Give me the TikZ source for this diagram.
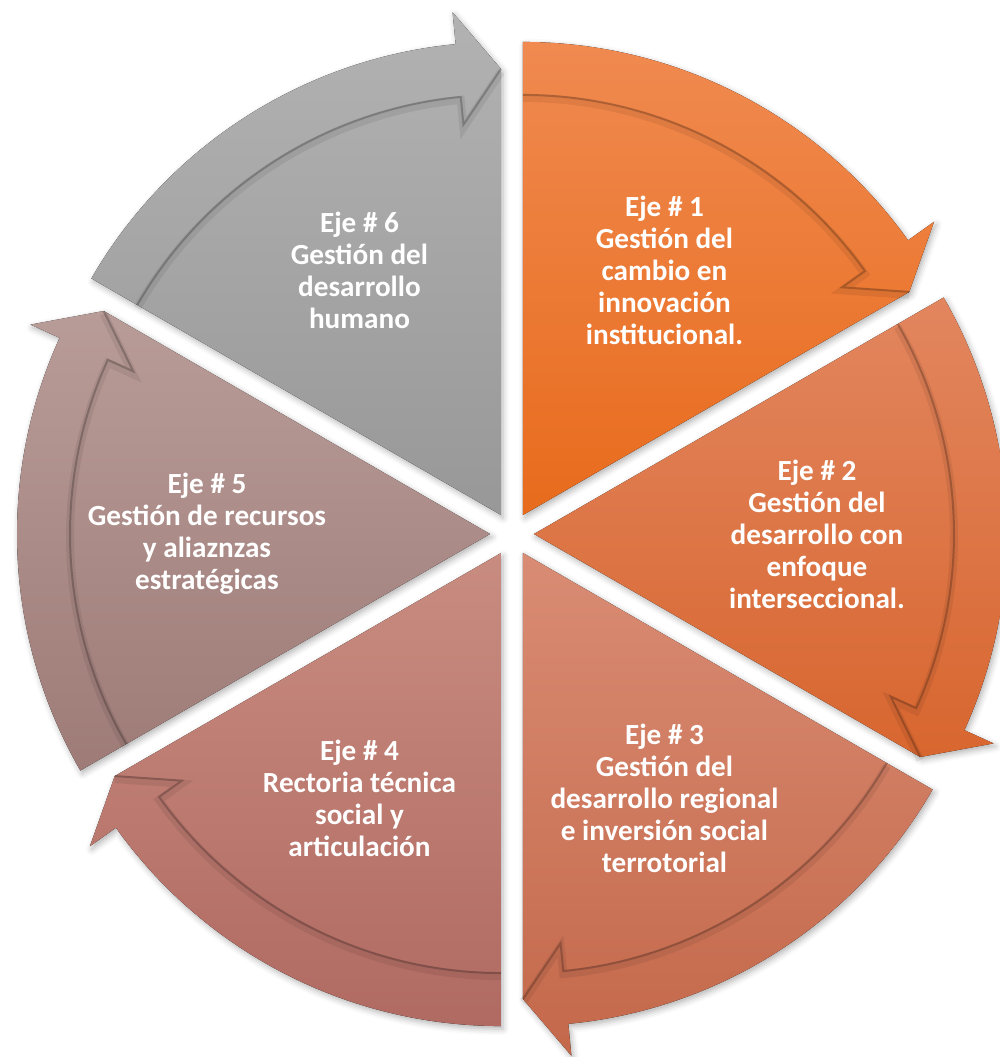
\documentclass[tikz,border=0pt]{standalone}
\usepackage{fontspec}
\setmainfont{Carlito}
\usetikzlibrary{shadows.blur}

\definecolor{ejeOneTop}{HTML}{F08A50}
\definecolor{ejeOneBot}{HTML}{E86B1C}
\definecolor{ejeTwoTop}{HTML}{E2865F}
\definecolor{ejeTwoBot}{HTML}{D8662F}
\definecolor{ejeThreeTop}{HTML}{D98C74}
\definecolor{ejeThreeBot}{HTML}{C4684A}
\definecolor{ejeFourTop}{HTML}{C98C80}
\definecolor{ejeFourBot}{HTML}{B06A62}
\definecolor{ejeFiveTop}{HTML}{B89C98}
\definecolor{ejeFiveBot}{HTML}{9E7B77}
\definecolor{ejeSixTop}{HTML}{B2B2B2}
\definecolor{ejeSixBot}{HTML}{989898}

\begin{document}
\begin{tikzpicture}[x=0.5pt, y=0.5pt,
        eje/.style={text=white, align=center, font=\fontsize{14.6}{16}\selectfont\bfseries},
        piece/.style={blur shadow={shadow xshift=1pt, shadow yshift=-1.5pt, shadow blur radius=3pt, shadow opacity=30}},
        rim/.style={draw=black, draw opacity=.22, line width=1pt},
        rimsoft/.style={draw=black, draw opacity=.07, line width=4pt}
    ]
        \useasboundingbox (-512,-523) rectangle (488,534);

        % pieces of the cycle, clockwise from the top
        \foreach \a/\ct/\cb in {90/ejeOneTop/ejeOneBot, 30/ejeTwoTop/ejeTwoBot,
                -30/ejeThreeTop/ejeThreeBot, -90/ejeFourTop/ejeFourBot,
                -150/ejeFiveTop/ejeFiveBot, 150/ejeSixTop/ejeSixBot}{
            \pgfmathsetmacro{\b}{\a-60}
            \pgfmathsetmacro{\e}{\a-54.5}
            \pgfmathsetmacro{\m}{\a-30}
            \begin{scope}[shift={(\m:22)}]
                \fill[piece, top color=\ct, bottom color=\cb] (0,0) -- (\a:473)
                    arc[start angle=\a, end angle=\e, radius=473] -- (\e:505) -- (\b:446) -- cycle;
                \draw[rimsoft, shift={(0,-3)}] (\a:420)
                    arc[start angle=\a, end angle=\e, radius=420] -- (\e:392) -- (\b:446);
                \draw[rim] (\a:420)
                    arc[start angle=\a, end angle=\e, radius=420] -- (\e:392) -- (\b:446);
            \end{scope}
        }

        \node[eje] (eje1) at (60:305) {Eje \# 1\\Gestión del\\cambio en\\innovación\\institucional.};
        \node[eje] (eje2) at (0:305) {Eje \# 2\\Gestión del\\desarrollo con\\enfoque\\interseccional.};
        \node[eje] (eje3) at (-60:305) {Eje \# 3\\Gestión del\\desarrollo regional\\e inversión social\\terrotorial};
        \node[eje] (eje4) at (-120:305) {Eje \# 4\\Rectoria técnica\\social y\\articulación};
        \node[eje] (eje5) at (180:305) {Eje \# 5\\Gestión de recursos\\y aliaznzas\\estratégicas};
        \node[eje] (eje6) at (120:305) {Eje \# 6\\Gestión del\\desarrollo\\humano};
    \end{tikzpicture}
\end{document}
